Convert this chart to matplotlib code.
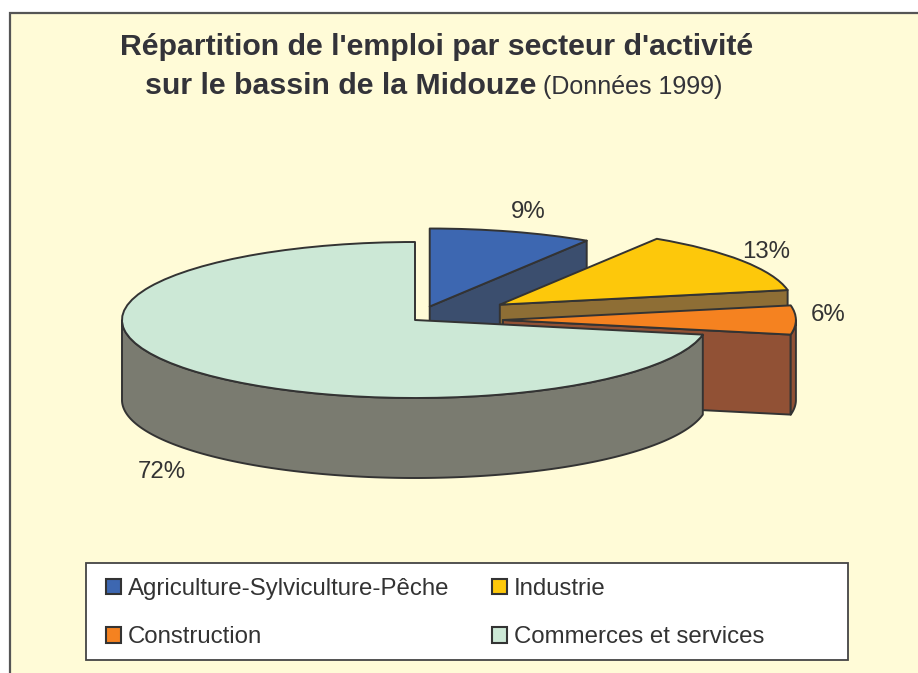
import numpy as np
import matplotlib.pyplot as plt
from matplotlib.patches import Polygon, Rectangle, Patch

# donnees
secteurs = ['Agriculture-Sylviculture-Pêche', 'Industrie', 'Construction', 'Commerces et services']
parts = [9, 13, 6, 72]
etiquettes = ['9%', '13%', '6%', '72%']

# style
couleurs = ['#3D67B1', '#FDC80B', '#F58220', '#CCE8D6']
couleurs_cote = ['#3B4E6E', '#8E6E35', '#915135', '#7A7B70']
ecart = [0.18, 0.35, 0.30, 0]
dist_etiq = [1.2, 1.1, 1.11, 1.12]
trait = '#333333'
fond = '#FFFBD7'
police = 'Liberation Sans'

W, H = 918, 673
cx, cy, rx, ry = 415, 320, 293, 78   # centre et rayons du camembert (pixels)
prof = 80 / ry                        # epaisseur en unites y

fig = plt.figure(figsize=(W / 100, H / 100), dpi=100)
fig.patch.set_facecolor('white')

# fond + cadre de legende en pixels
ax_fond = fig.add_axes([0, 0, 1, 1])
ax_fond.set_xlim(0, W)
ax_fond.set_ylim(H, 0)
ax_fond.axis('off')
ax_fond.add_patch(Rectangle((10, 13), W, H, facecolor=fond, edgecolor='#555555', lw=1.6))
ax_fond.add_patch(Rectangle((86, 563), 762, 97, facecolor='white', edgecolor='#444444', lw=1.3))

# camembert
ax = fig.add_axes([0, 0, 1, 1])
ax.patch.set_alpha(0)
wedges, _ = ax.pie(parts, explode=ecart, colors=couleurs, startangle=90, counterclock=False,
                   wedgeprops=dict(edgecolor=trait, linewidth=1.4, joinstyle='round'))
ax.set_aspect('auto')
ax.set_xlim(-cx / rx, (W - cx) / rx)
ax.set_ylim((cy - H) / ry, cy / ry)
ax.axis('off')


def mur_radial(c, phi):
    u = np.array([np.cos(np.radians(phi)), np.sin(np.radians(phi))])
    d = np.array([0, prof])
    return [c, c + u, c + u - d, c - d]


for i, w in enumerate(wedges):
    c = np.array(w.center)
    t1, t2 = w.theta1, w.theta2
    z = 2 + 2 * i
    # faces radiales visibles
    if np.cos(np.radians(t1)) > 1e-6:
        ax.add_patch(Polygon(mur_radial(c, t1), closed=True, facecolor=couleurs_cote[i],
                             edgecolor=trait, lw=1.4, joinstyle='round', zorder=z))
    if np.cos(np.radians(t2)) < -1e-6:
        ax.add_patch(Polygon(mur_radial(c, t2), closed=True, facecolor=couleurs_cote[i],
                             edgecolor=trait, lw=1.4, joinstyle='round', zorder=z))
    # paroi exterieure (partie avant)
    phi = np.linspace(t1, t2, 400)
    phi = phi[np.sin(np.radians(phi)) <= 0]
    if len(phi) > 1:
        px = c[0] + np.cos(np.radians(phi))
        py = c[1] + np.sin(np.radians(phi))
        pts = np.concatenate([np.column_stack([px, py]),
                              np.column_stack([px[::-1], py[::-1] - prof])])
        ax.add_patch(Polygon(pts, closed=True, facecolor=couleurs_cote[i],
                             edgecolor=trait, lw=1.4, joinstyle='round', zorder=z))
    w.set_zorder(z + 1)

    # etiquette
    m = np.radians((t1 + t2) / 2)
    lx = c[0] + dist_etiq[i] * np.cos(m)
    ly = c[1] + dist_etiq[i] * np.sin(m)
    if np.sin(m) < 0:
        ly -= prof * 1.2
    else:
        ly += 0.06
    ax.text(lx, ly, etiquettes[i], ha='center', va='center', fontsize=17.3,
            color=trait, family=police, zorder=20)

# titre
fig.text(437 / W, 1 - 55 / H, "Répartition de l'emploi par secteur d'activité", ha='center',
         va='baseline', fontsize=21.8, weight='bold', color='#333339', family=police)
t2 = fig.text(145 / W, 1 - 94 / H, 'sur le bassin de la Midouze', ha='left', va='baseline',
              fontsize=21.8, weight='bold', color='#333339', family=police)
fig.canvas.draw()
bb = t2.get_window_extent()
fig.text(bb.x1 / W, 1 - 94 / H, ' (Données 1999)', ha='left', va='baseline',
         fontsize=18, color='#333339', family=police)

# legende
ordre = [0, 2, 1, 3]
poignees = [Patch(facecolor=couleurs[k], edgecolor=trait, lw=1.5) for k in ordre]
fig.legend(poignees, [secteurs[k] for k in ordre], ncol=2, loc='upper left',
           bbox_to_anchor=(106 / W, 1 - 578 / H), frameon=False,
           prop=dict(family=police, size=17.3), labelcolor=trait,
           handlelength=0.62, handleheight=0.62, handletextpad=0.3,
           columnspacing=1.76, labelspacing=1.1, borderpad=0, borderaxespad=0)

fig.savefig('out.png', dpi=100, facecolor='white')
